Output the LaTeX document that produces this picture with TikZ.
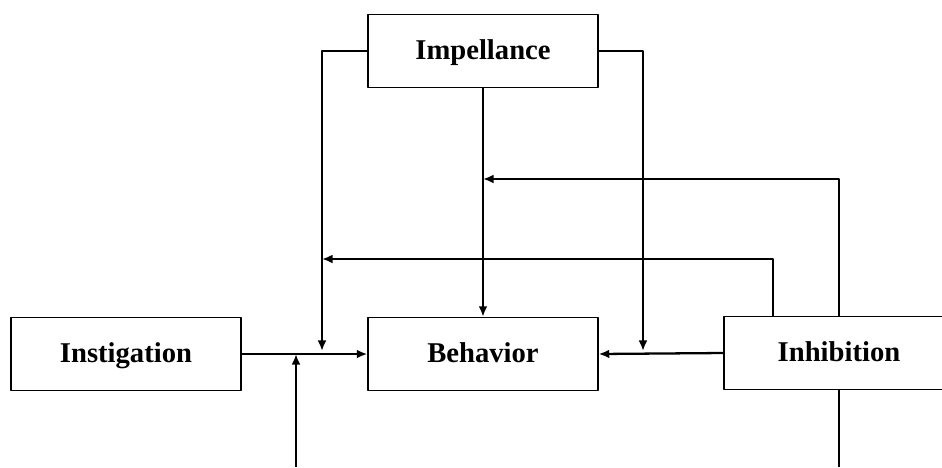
\documentclass[tikz,border=0pt]{standalone}
\usepackage{fontspec}
\setmainfont{Liberation Serif}
\usetikzlibrary{arrows.meta}
\begin{document}
\begin{tikzpicture}[x=0.02cm, y=-0.02cm, line join=round, >={Latex[length=6pt,width=5pt]},
    box/.style={draw, line width=0.8pt, minimum width=4.6cm, minimum height=1.46cm, inner sep=0pt,
        text height=10.8pt, text depth=1pt, font=\fontsize{16.3}{18}\selectfont\bfseries},
    link/.style={line width=1.3pt}]
    \useasboundingbox (0,0) rectangle (942,467);
    % boxes
    \node[box] (imp) at (483,51) {Impellance};
    \node[box] (beh) at (483,354) {Behavior};
    \node[box] (ins) at (126,354) {Instigation};
    \node[box] (inh) at (839,353) {Inhibition};
    % junctions and free ends
    \coordinate (jl) at (322,351);
    \coordinate (jr) at (643,351);
    \coordinate (jb) at (296,354);
    \coordinate (ja) at (483,179);
    \coordinate (jc) at (322,259);
    \coordinate (inhtop) at (773,317);
    \coordinate (low) at (296,467);
    \coordinate (inhlow) at (839,467);
    % connectors
    \draw[link,->] (ins.east) -- (beh.west);
    \draw[link,->] (inh.west) -- (beh.east);
    \draw[link,->] (imp.south) -- (beh.north);
    \draw[link,->] (imp.west) -| (jl);
    \draw[link,->] (imp.east) -| (jr);
    \draw[link,->] (low) -- (jb);
    \draw[link] (inh.south) -- (inhlow);
    \draw[link,->] (inh.north) |- (ja);
    \draw[link,->] (inhtop) |- (jc);
\end{tikzpicture}
\end{document}
